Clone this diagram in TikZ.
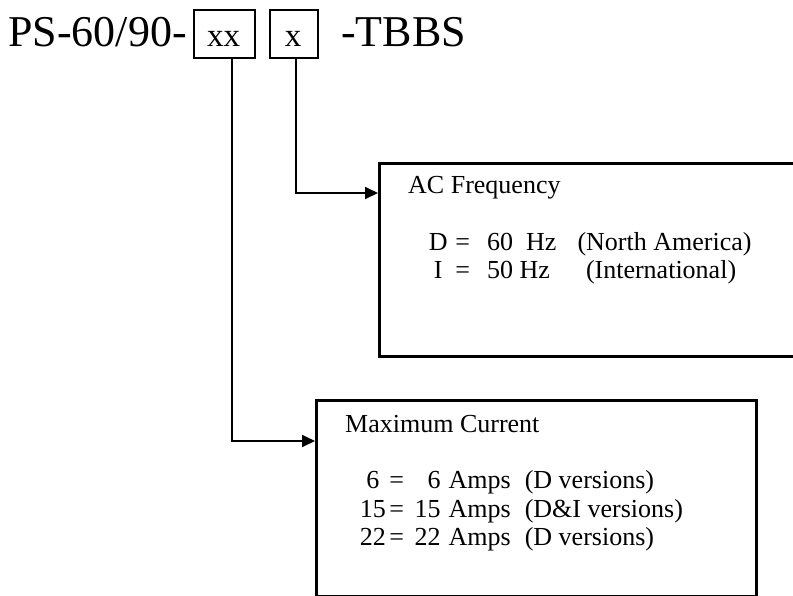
\documentclass[tikz,border=0pt]{standalone}
\usepackage{fontspec}
\setmainfont{Liberation Serif}
\usetikzlibrary{arrows.meta,calc}
\begin{document}
\begin{tikzpicture}[x=1pt,y=-1pt,
  title/.style={anchor=base west,inner sep=0pt,font=\fontsize{44}{50}\selectfont},
  body/.style={anchor=base west,inner sep=0pt,font=\fontsize{26}{30}\selectfont},
  smallbox/.style={draw,line width=1.8pt,inner sep=0pt,minimum width=61pt,minimum height=48pt,anchor=north west},
  bigbox/.style={draw,line width=3pt,inner sep=0pt,anchor=north west},
  conn/.style={line width=1.8pt,-{Triangle[length=13pt,width=12pt]}}]
\useasboundingbox (0,0) rectangle (793,595);
\clip (0,0) rectangle (793,595);
\fill[white] (0,0) rectangle (793,595);
% title
\node[title] (pre) at (8,46) {PS-60/90-};
\node[smallbox] (xx) at (193,9) {};
\node[smallbox,minimum width=48pt] (x) at (269,9) {};
\node[anchor=base,inner sep=0pt,font=\fontsize{33}{38}\selectfont] (xxt) at (223.5,46) {xx};
\node[anchor=base,inner sep=0pt,font=\fontsize{33}{38}\selectfont] (xt) at (293,46) {x};
\node[title] (post) at (341,46) {-TBBS};
% boxes
\node[bigbox,minimum width=440pt,minimum height=193pt] (ac) at (378,162) {};
\node[bigbox,minimum width=440pt,minimum height=195.5pt] (mc) at (315,399) {};
% AC frequency text
\node[body] (acT) at (408,193) {AC Frequency};
\node[body] (acL1) at (427,250) {\makebox[22pt][c]{D}\makebox[27pt][c]{=}\hspace{11pt}60\hspace{13pt}Hz\hspace{21pt}(North America)};
\node[body] (acL2) at (427,278) {\makebox[22pt][c]{I}\makebox[27pt][c]{=}\hspace{11pt}50 Hz\hspace{36pt}(International)};
% maximum current text
\node[body] (mcT) at (345,432) {Maximum Current};
\node[body] (mcL1) at (360,488) {\makebox[25.5pt][c]{6}\makebox[22pt][c]{=}\makebox[33pt][r]{6}\hspace{8pt}Amps\hspace{14pt}(D versions)};
\node[body] (mcL2) at (360,517) {\makebox[25.5pt][c]{15}\makebox[22pt][c]{=}\makebox[33pt][r]{15}\hspace{8pt}Amps\hspace{14pt}(D\&I versions)};
\node[body] (mcL3) at (360,545) {\makebox[25.5pt][c]{22}\makebox[22pt][c]{=}\makebox[33pt][r]{22}\hspace{8pt}Amps\hspace{14pt}(D versions)};
% connectors
\coordinate (c1) at (232,441);
\coordinate (c2) at (296,193);
\draw[conn] (xx.south -| c1) -- (c1) -- (c1 -| mc.west);
\draw[conn] (x.south -| c2) -- (c2) -- (c2 -| ac.west);
\end{tikzpicture}
\end{document}
